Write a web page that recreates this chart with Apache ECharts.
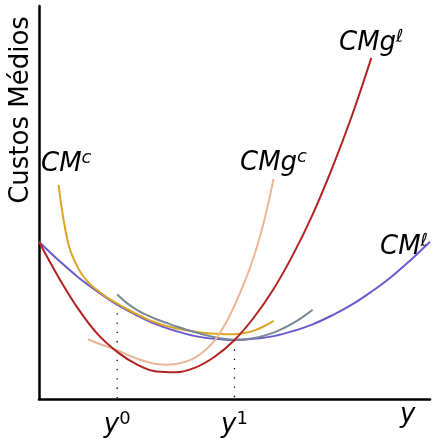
<!DOCTYPE html>
<html>
<head>
<meta charset="utf-8">
<script src="https://cdn.jsdelivr.net/npm/echarts@6/dist/echarts.min.js"></script>
<style>
html, body { margin: 0; padding: 0; background: #fff; }
#box { width: 433px; height: 443px; }
</style>
</head>
<body>
<div id="box"></div>
<script>
// curvas, pares [y, custo]
var cmLongo = [[0, 4.00], [0.5, 3.53], [1, 3.10], [1.5, 2.73], [2, 2.40], [2.5, 2.13], [3, 1.90], [3.5, 1.73],
  [4, 1.60], [4.5, 1.53], [5, 1.50], [5.5, 1.53], [6, 1.60], [6.5, 1.73], [7, 1.90], [7.5, 2.13], [8, 2.40],
  [8.5, 2.73], [9, 3.10], [9.5, 3.53], [10, 4.00]];
var cmgLongo = [[0, 4.00], [0.5, 3.10], [1, 2.30], [1.5, 1.65], [2, 1.20], [2.5, 0.88], [3, 0.70], [3.5, 0.68],
  [4, 0.80], [4.5, 1.08], [5, 1.50], [5.5, 2.08], [6, 2.80], [6.5, 3.68], [7, 4.70], [7.5, 5.88], [8, 7.20],
  [8.5, 8.68]];
var cmCurto = [[0.5, 5.45], [0.75, 3.95], [1, 3.33], [1.25, 2.98], [1.5, 2.76], [1.75, 2.58], [2, 2.43],
  [2.25, 2.29], [2.5, 2.16], [2.75, 2.04], [3, 1.94], [3.25, 1.86], [3.5, 1.80], [3.75, 1.75], [4, 1.71],
  [4.25, 1.68], [4.5, 1.66], [4.75, 1.65], [5, 1.65], [5.25, 1.68], [5.5, 1.74], [5.75, 1.85], [6, 1.99]];
var cmgCurto = [[1.25, 1.52], [1.5, 1.42], [1.75, 1.33], [2, 1.24], [2.25, 1.13], [2.5, 1.03], [2.75, 0.95],
  [3, 0.89], [3.25, 0.87], [3.5, 0.89], [3.75, 0.95], [4, 1.06], [4.25, 1.24], [4.5, 1.50], [4.75, 1.88],
  [5, 2.38], [5.25, 2.96], [5.5, 3.64], [5.75, 4.50], [6, 5.60]];
var cmCurto2 = [[2, 2.66], [2.25, 2.44], [2.5, 2.27], [2.75, 2.14], [3, 2.03], [3.25, 1.94], [3.5, 1.85],
  [3.75, 1.77], [4, 1.70], [4.25, 1.63], [4.5, 1.57], [4.75, 1.53], [5, 1.51], [5.25, 1.52], [5.5, 1.55],
  [5.75, 1.61], [6, 1.69], [6.25, 1.80], [6.5, 1.93], [6.75, 2.09], [7, 2.27]];

// marcas no eixo horizontal
var tickPos = [2, 5];
var tickSup = ['0', '1'];
var tickTopo = [2.42, 1.50]; // onde as linhas pontilhadas encontram as curvas

var fonte = '"DejaVu Sans", sans-serif';

function linha(nome, dados, cor, z) {
  return {
    name: nome, type: 'line', data: dados, z: z,
    showSymbol: false, smooth: 0.4,
    lineStyle: { color: cor, width: 2 }
  };
}

function rotulo(x, y, base, sup) {
  return {
    type: 'text', left: x, top: y,
    style: {
      text: '{m|' + base + '}{s|' + sup + '}',
      rich: {
        m: { fontFamily: fonte, fontStyle: 'italic', fontSize: 26, lineHeight: 30, fill: '#000' },
        s: { fontFamily: fonte, fontStyle: 'italic', fontSize: 18, lineHeight: 18, verticalAlign: 'top', fill: '#000' }
      }
    }
  };
}

var series = [
  linha('CMl', cmLongo, '#6a5acd', 2),
  linha('CMc', cmCurto, '#daa520', 3),
  linha('CMc2', cmCurto2, '#778899', 3),
  linha('CMgc', cmgCurto, '#ecb596', 4),
  linha('CMgl', cmgLongo, '#b22222', 5)
];
for (var i = 0; i < tickPos.length; i++) {
  series.push({
    type: 'line', data: [[tickPos[i], tickTopo[i]], [tickPos[i], 0]], z: 1,
    showSymbol: false, silent: true,
    lineStyle: { color: '#000', width: 1.3, type: [1.3, 8] }
  });
}

var myChart = echarts.init(document.getElementById('box'));
myChart.setOption({
  animation: false,
  grid: { left: 39, top: 6, right: 1, bottom: 44 },
  xAxis: {
    type: 'value', min: 0, max: 10, interval: 1,
    axisLine: { onZero: false, lineStyle: { color: '#000', width: 2.5 } },
    axisTick: { show: false },
    splitLine: { show: false },
    axisLabel: {
      margin: 11,
      formatter: function (v) {
        var k = tickPos.indexOf(v);
        return k < 0 ? '' : '{v|y}{s|' + tickSup[k] + '}';
      },
      rich: {
        v: { fontFamily: fonte, fontStyle: 'italic', fontSize: 26, lineHeight: 30, color: '#000' },
        s: { fontFamily: fonte, fontSize: 18, lineHeight: 18, verticalAlign: 'top', color: '#000' }
      }
    }
  },
  yAxis: {
    type: 'value', min: 0, max: 10,
    axisLine: { show: true, onZero: false, lineStyle: { color: '#000', width: 2.5 } },
    axisTick: { show: false },
    axisLabel: { show: false },
    splitLine: { show: false }
  },
  graphic: [
    {
      type: 'text', x: 21, y: 110, rotation: Math.PI / 2,
      style: { text: 'Custos Médios', fontFamily: fonte, fontSize: 26, fill: '#000', align: 'center', verticalAlign: 'middle' }
    },
    {
      type: 'text', left: 400, top: 402,
      style: { text: 'y', fontFamily: fonte, fontStyle: 'italic', fontSize: 26, fill: '#000' }
    },
    rotulo(41, 149, 'CM', 'c'),
    rotulo(240, 148, 'CMg', 'c'),
    rotulo(339, 28, 'CMg', 'ℓ'),
    rotulo(380, 232, 'CM', 'ℓ')
  ],
  series: series
});
</script>
</body>
</html>
